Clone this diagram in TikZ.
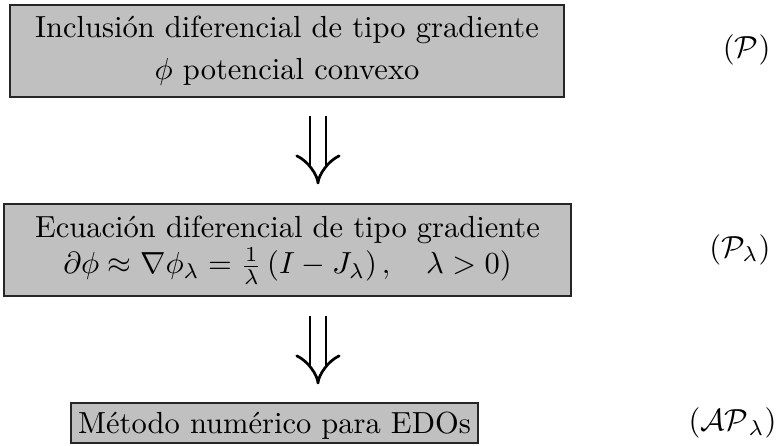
\documentclass[tikz,border=0pt]{standalone}
\usepackage{amsmath}
\usetikzlibrary{arrows.meta}
\definecolor{boxgray}{RGB}{192,192,192}
\def\pxu{0.32787pt}
\begin{document}
\begin{tikzpicture}[x=0.32787pt,y=-0.32787pt,
  box/.style={draw=black!85, line width=0.4pt, fill=boxgray, inner sep=0pt, align=center},
  dbl/.style={double, double distance=4.36pt, line width=0.885pt, -{Implies[length=8.9pt, width=13.8pt]}},
  lbl/.style={anchor=base east, inner sep=0pt}]
\useasboundingbox (0,0) rectangle (781,446);
\node[box, minimum width=554*\pxu, minimum height=92*\pxu,
      font=\fontsize{10}{13.9}\selectfont] (b1) at (287,51)
  {Inclusión diferencial de tipo gradiente\\ $\phi$ potencial convexo};
\node[box, minimum width=567*\pxu, minimum height=92*\pxu,
      font=\fontsize{10}{12}\selectfont] (b2) at (287.5,250)
  {Ecuación diferencial de tipo gradiente\\
   $\partial\phi \approx \nabla\phi_\lambda = \frac{1}{\lambda}\left(I - J_\lambda\right), \quad \lambda > 0)$};
\node[box, minimum width=407*\pxu, minimum height=40*\pxu,
      text height=6.83pt, text depth=0pt] (b3) at (274.5,423)
  {Método numérico para EDOs};
\coordinate (ax) at (318,0);
\draw[dbl, shorten <=18*\pxu, shorten >=19*\pxu] (b1.south -| ax) -- (b2.north -| ax);
\draw[dbl, shorten <=19*\pxu, shorten >=18*\pxu] (b2.south -| ax) -- (b3.north -| ax);
\node[lbl] (l1) at (771,57.4) {$(\mathcal{P})$};
\node[lbl] (l2) at (771,257.4) {$(\mathcal{P}_\lambda)$};
\node[lbl] (l3) at (777,430.5) {$(\mathcal{AP}_\lambda)$};
\end{tikzpicture}
\end{document}
